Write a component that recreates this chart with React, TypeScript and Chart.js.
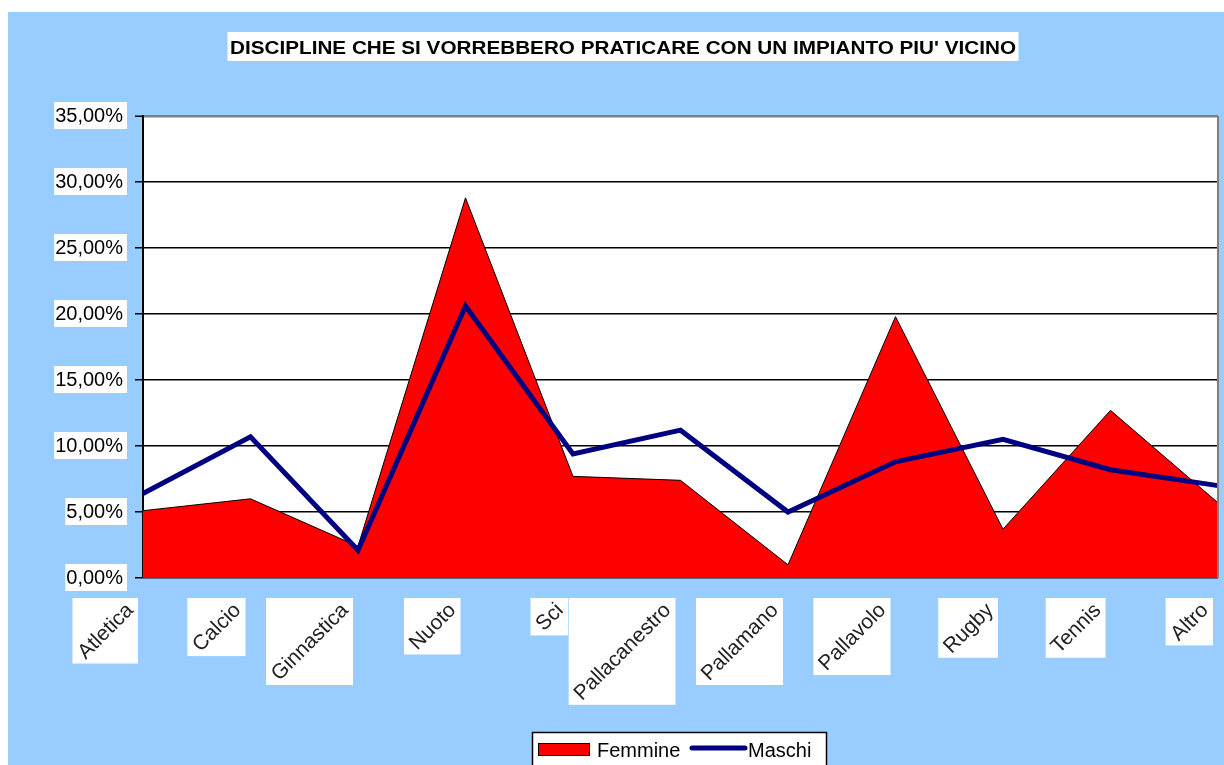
import React, { useEffect, useRef } from 'react';
import { Chart, registerables } from 'chart.js';

Chart.register(...registerables);

const TITLE = "DISCIPLINE CHE SI VORREBBERO PRATICARE CON UN IMPIANTO PIU' VICINO";
const CATEGORIES = ['Atletica', 'Calcio', 'Ginnastica', 'Nuoto', 'Sci', 'Pallacanestro', 'Pallamano', 'Pallavolo', 'Rugby', 'Tennis', 'Altro'];
const FEMMINE = [5.1, 6.0, 2.4, 28.8, 7.7, 7.4, 1.0, 19.8, 3.7, 12.7, 5.7];
const MASCHI = [6.4, 10.7, 2.1, 20.6, 9.4, 11.2, 5.0, 8.8, 10.5, 8.2, 7.0];
const Y_TICK_LABELS = ['0,00%', '5,00%', '10,00%', '15,00%', '20,00%', '25,00%', '30,00%', '35,00%'];
const SERIES_NAMES = ['Femmine', 'Maschi'];

const FONT = '"Liberation Sans", Arial, Helvetica, sans-serif';

const decor = {
  id: 'decor',
  beforeDraw(chart: any) {
    const { ctx, chartArea: a } = chart;
    ctx.save();
    ctx.fillStyle = '#ffffff';
    ctx.fillRect(a.left, a.top, a.right - a.left, a.bottom - a.top);
    ctx.restore();
  },
  afterDraw(chart: any) {
    const { ctx, chartArea: a } = chart;
    ctx.save();
    // plot border right
    ctx.strokeStyle = '#808080';
    ctx.lineWidth = 2;
    ctx.beginPath();
    ctx.moveTo(a.right, a.top);
    ctx.lineTo(a.right, a.bottom);
    ctx.stroke();

    // Title
    ctx.font = `bold 19px ${FONT}`;
    const tw = ctx.measureText(TITLE).width;
    const targetW = 786;
    const sx = targetW / tw;
    const cx = 615;
    ctx.fillStyle = '#ffffff';
    ctx.fillRect(cx - targetW / 2 - 2.5, 20, targetW + 5, 29);
    ctx.fillStyle = '#000000';
    ctx.textAlign = 'center';
    ctx.textBaseline = 'alphabetic';
    ctx.save();
    ctx.translate(cx, 42);
    ctx.scale(sx, 1);
    ctx.fillText(TITLE, 0, 0);
    ctx.restore();

    // X labels
    const xs = chart.scales.x;
    const fs = 21;
    ctx.font = `${fs}px ${FONT}`;
    CATEGORIES.forEach((lab, i) => {
      const px = xs.getPixelForValue(i);
      const w = ctx.measureText(lab).width;
      const side = (w + fs) * Math.SQRT1_2 + 2;
      const right = px - 5;
      const top = 586;
      ctx.fillStyle = '#ffffff';
      ctx.fillRect(right - side, top, side, side);
      ctx.save();
      ctx.translate(right - side / 2, top + side / 2);
      ctx.rotate(-Math.PI / 4);
      ctx.fillStyle = '#222222';
      ctx.textAlign = 'center';
      ctx.textBaseline = 'middle';
      ctx.fillText(lab, 0, 1);
      ctx.restore();
    });

    // Legend
    const ds = chart.data.datasets;
    ctx.fillStyle = '#ffffff';
    ctx.fillRect(524, 720, 294, 40);
    ctx.strokeStyle = '#000000';
    ctx.lineWidth = 1.5;
    ctx.strokeRect(524.5, 720.5, 294, 40);
    ctx.fillStyle = ds[0].backgroundColor;
    ctx.fillRect(530, 731, 51, 12);
    ctx.lineWidth = 1;
    ctx.strokeRect(530.5, 731.5, 51, 12);
    ctx.strokeStyle = ds[1].borderColor;
    ctx.lineWidth = 5;
    ctx.lineCap = 'round';
    ctx.beginPath();
    ctx.moveTo(684, 736);
    ctx.lineTo(737, 736);
    ctx.stroke();
    ctx.fillStyle = '#000000';
    ctx.font = `20px ${FONT}`;
    ctx.textAlign = 'left';
    ctx.textBaseline = 'alphabetic';
    ctx.fillText(ds[0].label, 589, 745);
    ctx.fillText(ds[1].label, 740, 745);
    ctx.restore();
  },
};

export default function App() {
  const ref = useRef<HTMLCanvasElement>(null);
  useEffect(() => {
    const chart = new Chart(ref.current as HTMLCanvasElement, {
      type: 'line',
      data: {
        labels: CATEGORIES,
        datasets: [
          {
            label: SERIES_NAMES[0],
            data: FEMMINE,
            fill: 'origin',
            backgroundColor: '#FF0000',
            borderColor: '#000000',
            borderWidth: 1,
            pointRadius: 0,
            tension: 0,
            order: 1,
          },
          {
            label: SERIES_NAMES[1],
            data: MASCHI,
            fill: false,
            borderColor: '#000080',
            backgroundColor: '#000080',
            borderWidth: 5,
            pointRadius: 0,
            tension: 0,
            order: 0,
          },
        ],
      },
      options: {
        animation: false,
        responsive: false,
        layout: { padding: { left: 0, right: 6, top: 104, bottom: 187 } },
        plugins: {
          legend: { display: false },
          title: { display: false },
          tooltip: { enabled: false },
        },
        scales: {
          x: { type: 'category', display: false, offset: false },
          y: {
            min: 0,
            max: 35,
            afterFit: (s: any) => {
              s.width = 135;
            },
            ticks: {
              stepSize: 5,
              callback: (_v: any, i: number) => Y_TICK_LABELS[i],
              font: { size: 20, family: FONT },
              color: '#000000',
              padding: 12,
              showLabelBackdrop: true,
              backdropColor: '#ffffff',
              backdropPadding: { left: 1, right: 4, top: 2, bottom: 1 },
            },
            grid: {
              color: (c: any) => (c.tick && c.tick.value === 35 ? '#808080' : '#000000'),
              lineWidth: (c: any) => (c.tick && c.tick.value === 35 ? 2.5 : 1.5),
              tickLength: 8,
              tickColor: '#000000',
              tickWidth: 1.5,
            },
            border: { color: '#000000', width: 2 },
          },
        },
      } as any,
      plugins: [decor],
    });
    return () => chart.destroy();
  }, []);

  return (
    <div
      style={{
        position: 'fixed',
        left: 8,
        top: 12,
        width: 1216,
        height: 753,
        background: '#99CCFF',
      }}
    >
      <canvas ref={ref} width={1216} height={753} style={{ display: 'block' }} />
    </div>
  );
}
